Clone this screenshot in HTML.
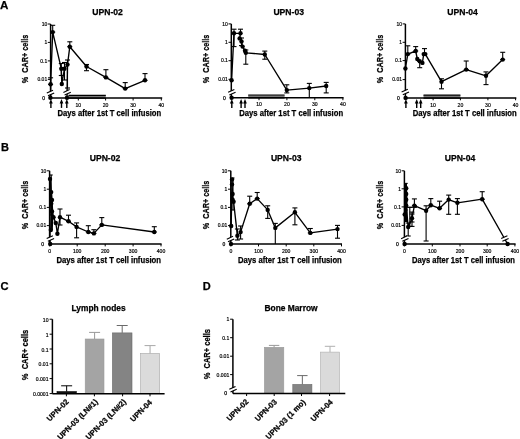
<!DOCTYPE html>
<html><head><meta charset="utf-8"><style>
html,body{margin:0;padding:0;background:#fff;overflow:hidden;}
svg{display:block;filter:grayscale(1) blur(0.3px);}
text{font-family:"Liberation Sans",sans-serif;}
</style></head><body>
<svg width="520" height="439" viewBox="0 0 520 439">
<rect width="520" height="439" fill="#fff"/>
<text x="0.0" y="8.6" font-size="11.6" font-weight="bold" text-anchor="start" fill="#000" stroke="#000" stroke-width="0.25" >A</text>
<text x="1.0" y="151.2" font-size="11.0" font-weight="bold" text-anchor="start" fill="#000" stroke="#000" stroke-width="0.25" >B</text>
<text x="0.5" y="290.0" font-size="11.2" font-weight="bold" text-anchor="start" fill="#000" stroke="#000" stroke-width="0.25" >C</text>
<text x="202.7" y="289.8" font-size="11.0" font-weight="bold" text-anchor="start" fill="#000" stroke="#000" stroke-width="0.25" >D</text>
<text x="107.6" y="15.3" font-size="8.6" font-weight="bold" text-anchor="middle" fill="#000" stroke="#000" stroke-width="0.25" >UPN-02</text>
<text transform="translate(24.7,59.0) rotate(-90)" x="0" y="3.02" font-size="8.4" font-weight="bold" stroke="#000" stroke-width="0.25" text-anchor="middle" textLength="48.6" lengthAdjust="spacingAndGlyphs" xml:space="preserve">%  CAR+ cells</text>
<line x1="50.6" y1="24.0" x2="50.6" y2="98.1" stroke="#000" stroke-width="1.5" />
<line x1="47.800000000000004" y1="24.0" x2="50.6" y2="24.0" stroke="#000" stroke-width="1.0" />
<text x="47.2" y="25.7" font-size="5.0" font-weight="normal" text-anchor="end" fill="#000" stroke="#000" stroke-width="0.18">10</text>
<line x1="47.800000000000004" y1="42.4" x2="50.6" y2="42.4" stroke="#000" stroke-width="1.0" />
<text x="47.2" y="44.1" font-size="5.0" font-weight="normal" text-anchor="end" fill="#000" stroke="#000" stroke-width="0.18">1</text>
<line x1="47.800000000000004" y1="60.9" x2="50.6" y2="60.9" stroke="#000" stroke-width="1.0" />
<text x="47.2" y="62.6" font-size="5.0" font-weight="normal" text-anchor="end" fill="#000" stroke="#000" stroke-width="0.18">0.1</text>
<line x1="47.800000000000004" y1="79.4" x2="50.6" y2="79.4" stroke="#000" stroke-width="1.0" />
<text x="47.2" y="81.10000000000001" font-size="5.0" font-weight="normal" text-anchor="end" fill="#000" stroke="#000" stroke-width="0.18">0.01</text>
<text x="45.0" y="99.89999999999999" font-size="5.0" font-weight="normal" text-anchor="end" fill="#000" stroke="#000" stroke-width="0.25">0</text>
<line x1="50.6" y1="98.1" x2="162.2" y2="98.1" stroke="#000" stroke-width="1.5" />
<line x1="78.3" y1="98.1" x2="78.3" y2="100.5" stroke="#000" stroke-width="1.0" />
<text x="78.3" y="106.69999999999999" font-size="5.1" font-weight="normal" text-anchor="middle" fill="#000" stroke="#000" stroke-width="0.18">10</text>
<line x1="105.6" y1="98.1" x2="105.6" y2="100.5" stroke="#000" stroke-width="1.0" />
<text x="105.6" y="106.69999999999999" font-size="5.1" font-weight="normal" text-anchor="middle" fill="#000" stroke="#000" stroke-width="0.18">20</text>
<line x1="133.1" y1="98.1" x2="133.1" y2="100.5" stroke="#000" stroke-width="1.0" />
<text x="133.1" y="106.69999999999999" font-size="5.1" font-weight="normal" text-anchor="middle" fill="#000" stroke="#000" stroke-width="0.18">30</text>
<line x1="161.3" y1="98.1" x2="161.3" y2="100.5" stroke="#000" stroke-width="1.0" />
<text x="161.3" y="106.69999999999999" font-size="5.1" font-weight="normal" text-anchor="middle" fill="#000" stroke="#000" stroke-width="0.18">40</text>
<text x="109.39999999999999" y="116.1" font-size="8.5" font-weight="bold" text-anchor="middle" fill="#000" stroke="#000" stroke-width="0.25" textLength="103.6" lengthAdjust="spacingAndGlyphs" >Days after 1st T cell infusion</text>
<rect x="68.5" y="95.3" width="37.3" height="2.2" fill="#7a7a7a"/>
<line x1="68.5" y1="95.3" x2="105.8" y2="95.3" stroke="#000" stroke-width="1.2" />
<line x1="68.5" y1="98.1" x2="105.8" y2="98.1" stroke="#000" stroke-width="1.5" />
<path d="M50.9,99.0 L49.05,103.6 L52.75,103.6 Z" fill="#000"/>
<line x1="50.9" y1="102.0" x2="50.9" y2="107.9" stroke="#000" stroke-width="1.4" />
<path d="M61.5,99.0 L59.65,103.6 L63.35,103.6 Z" fill="#000"/>
<line x1="61.5" y1="102.0" x2="61.5" y2="107.9" stroke="#000" stroke-width="1.4" />
<path d="M66.8,99.0 L64.95,103.6 L68.64999999999999,103.6 Z" fill="#000"/>
<line x1="66.8" y1="102.0" x2="66.8" y2="107.9" stroke="#000" stroke-width="1.4" />
<polyline points="50.6,84.3 52.7,32.1 61.3,68.7 61.8,84.0 64.5,68.7 67.5,64.6 69.8,46.7 86.5,66.5 105.9,77.4 125.2,88.6 145.0,80.3" fill="none" stroke="#000" stroke-width="1.35" stroke-linejoin="round"/>
<polyline points="50.6,84.3 50.6,97.8" fill="none" stroke="#000" stroke-width="1.35" stroke-linejoin="round"/>
<polyline points="67.0,97.8 67.5,64.6" fill="none" stroke="#000" stroke-width="1.35" stroke-linejoin="round"/>
<line x1="52.7" y1="25.3" x2="52.7" y2="32.1" stroke="#000" stroke-width="1.1" />
<line x1="50.2" y1="25.3" x2="55.2" y2="25.3" stroke="#000" stroke-width="1.1" />
<line x1="50.2" y1="32.1" x2="55.2" y2="32.1" stroke="#000" stroke-width="1.1" />
<line x1="50.6" y1="77.8" x2="50.6" y2="84.3" stroke="#000" stroke-width="1.1" />
<line x1="48.1" y1="77.8" x2="53.1" y2="77.8" stroke="#000" stroke-width="1.1" />
<line x1="48.1" y1="84.3" x2="53.1" y2="84.3" stroke="#000" stroke-width="1.1" />
<line x1="61.3" y1="63.5" x2="61.3" y2="75.5" stroke="#000" stroke-width="1.1" />
<line x1="58.8" y1="63.5" x2="63.8" y2="63.5" stroke="#000" stroke-width="1.1" />
<line x1="58.8" y1="75.5" x2="63.8" y2="75.5" stroke="#000" stroke-width="1.1" />
<line x1="64.5" y1="62.5" x2="64.5" y2="80.0" stroke="#000" stroke-width="1.1" />
<line x1="62.0" y1="62.5" x2="67.0" y2="62.5" stroke="#000" stroke-width="1.1" />
<line x1="62.0" y1="80.0" x2="67.0" y2="80.0" stroke="#000" stroke-width="1.1" />
<line x1="67.5" y1="60.0" x2="67.5" y2="88.0" stroke="#000" stroke-width="1.1" />
<line x1="65.0" y1="60.0" x2="70.0" y2="60.0" stroke="#000" stroke-width="1.1" />
<line x1="65.0" y1="88.0" x2="70.0" y2="88.0" stroke="#000" stroke-width="1.1" />
<line x1="69.8" y1="41.8" x2="69.8" y2="46.7" stroke="#000" stroke-width="1.1" />
<line x1="67.3" y1="41.8" x2="72.3" y2="41.8" stroke="#000" stroke-width="1.1" />
<line x1="67.3" y1="46.7" x2="72.3" y2="46.7" stroke="#000" stroke-width="1.1" />
<line x1="86.5" y1="64.5" x2="86.5" y2="70.7" stroke="#000" stroke-width="1.1" />
<line x1="84.0" y1="64.5" x2="89.0" y2="64.5" stroke="#000" stroke-width="1.1" />
<line x1="84.0" y1="70.7" x2="89.0" y2="70.7" stroke="#000" stroke-width="1.1" />
<line x1="105.9" y1="69.7" x2="105.9" y2="77.4" stroke="#000" stroke-width="1.1" />
<line x1="103.4" y1="69.7" x2="108.4" y2="69.7" stroke="#000" stroke-width="1.1" />
<line x1="103.4" y1="77.4" x2="108.4" y2="77.4" stroke="#000" stroke-width="1.1" />
<line x1="125.2" y1="82.6" x2="125.2" y2="88.6" stroke="#000" stroke-width="1.1" />
<line x1="122.7" y1="82.6" x2="127.7" y2="82.6" stroke="#000" stroke-width="1.1" />
<line x1="122.7" y1="88.6" x2="127.7" y2="88.6" stroke="#000" stroke-width="1.1" />
<line x1="145.0" y1="73.6" x2="145.0" y2="80.3" stroke="#000" stroke-width="1.1" />
<line x1="142.5" y1="73.6" x2="147.5" y2="73.6" stroke="#000" stroke-width="1.1" />
<line x1="142.5" y1="80.3" x2="147.5" y2="80.3" stroke="#000" stroke-width="1.1" />
<polygon points="46.8,93.05000000000001 53.0,90.25 54.2,92.94999999999999 48.0,95.75" fill="#fff"/>
<line x1="46.8" y1="93.05000000000001" x2="53.0" y2="90.25" stroke="#000" stroke-width="1.15" />
<line x1="48.0" y1="95.75" x2="54.2" y2="92.94999999999999" stroke="#000" stroke-width="1.15" />
<polygon points="63.4,92.4 69.6,89.6 70.79999999999998,92.29999999999998 64.6,95.1" fill="#fff"/>
<line x1="63.4" y1="92.4" x2="69.6" y2="89.6" stroke="#000" stroke-width="1.15" />
<line x1="64.6" y1="95.1" x2="70.79999999999998" y2="92.29999999999998" stroke="#000" stroke-width="1.15" />
<circle cx="50.6" cy="84.3" r="2.2" fill="#000"/>
<circle cx="52.7" cy="32.1" r="2.2" fill="#000"/>
<circle cx="61.3" cy="68.7" r="2.2" fill="#000"/>
<circle cx="61.8" cy="84.0" r="2.2" fill="#000"/>
<circle cx="64.5" cy="68.7" r="2.2" fill="#000"/>
<circle cx="67.5" cy="64.6" r="2.2" fill="#000"/>
<circle cx="69.8" cy="46.7" r="2.2" fill="#000"/>
<circle cx="86.5" cy="66.5" r="2.2" fill="#000"/>
<circle cx="105.9" cy="77.4" r="2.2" fill="#000"/>
<circle cx="125.2" cy="88.6" r="2.2" fill="#000"/>
<circle cx="145.0" cy="80.3" r="2.2" fill="#000"/>
<circle cx="50.4" cy="97.8" r="2.2" fill="#000"/>
<circle cx="67.0" cy="97.8" r="2.2" fill="#000"/>
<text x="288.7" y="15.2" font-size="8.6" font-weight="bold" text-anchor="middle" fill="#000" stroke="#000" stroke-width="0.25" >UPN-03</text>
<text transform="translate(205.9,59.0) rotate(-90)" x="0" y="3.02" font-size="8.4" font-weight="bold" stroke="#000" stroke-width="0.25" text-anchor="middle" textLength="48.6" lengthAdjust="spacingAndGlyphs" xml:space="preserve">%  CAR+ cells</text>
<line x1="231.3" y1="23.9" x2="231.3" y2="97.8" stroke="#000" stroke-width="1.5" />
<line x1="228.5" y1="23.9" x2="231.3" y2="23.9" stroke="#000" stroke-width="1.0" />
<text x="227.9" y="25.599999999999998" font-size="5.0" font-weight="normal" text-anchor="end" fill="#000" stroke="#000" stroke-width="0.18">10</text>
<line x1="228.5" y1="42.3" x2="231.3" y2="42.3" stroke="#000" stroke-width="1.0" />
<text x="227.9" y="44.0" font-size="5.0" font-weight="normal" text-anchor="end" fill="#000" stroke="#000" stroke-width="0.18">1</text>
<line x1="228.5" y1="60.7" x2="231.3" y2="60.7" stroke="#000" stroke-width="1.0" />
<text x="227.9" y="62.400000000000006" font-size="5.0" font-weight="normal" text-anchor="end" fill="#000" stroke="#000" stroke-width="0.18">0.1</text>
<line x1="228.5" y1="79.3" x2="231.3" y2="79.3" stroke="#000" stroke-width="1.0" />
<text x="227.9" y="81.0" font-size="5.0" font-weight="normal" text-anchor="end" fill="#000" stroke="#000" stroke-width="0.18">0.01</text>
<text x="225.70000000000002" y="99.6" font-size="5.0" font-weight="normal" text-anchor="end" fill="#000" stroke="#000" stroke-width="0.25">0</text>
<line x1="231.3" y1="97.8" x2="343.6" y2="97.8" stroke="#000" stroke-width="1.5" />
<line x1="259.0" y1="97.8" x2="259.0" y2="100.2" stroke="#000" stroke-width="1.0" />
<text x="259.0" y="106.39999999999999" font-size="5.1" font-weight="normal" text-anchor="middle" fill="#000" stroke="#000" stroke-width="0.18">10</text>
<line x1="286.9" y1="97.8" x2="286.9" y2="100.2" stroke="#000" stroke-width="1.0" />
<text x="286.9" y="106.39999999999999" font-size="5.1" font-weight="normal" text-anchor="middle" fill="#000" stroke="#000" stroke-width="0.18">20</text>
<line x1="314.8" y1="97.8" x2="314.8" y2="100.2" stroke="#000" stroke-width="1.0" />
<text x="314.8" y="106.39999999999999" font-size="5.1" font-weight="normal" text-anchor="middle" fill="#000" stroke="#000" stroke-width="0.18">30</text>
<line x1="342.9" y1="97.8" x2="342.9" y2="100.2" stroke="#000" stroke-width="1.0" />
<text x="342.9" y="106.39999999999999" font-size="5.1" font-weight="normal" text-anchor="middle" fill="#000" stroke="#000" stroke-width="0.18">40</text>
<text x="291.15" y="116.1" font-size="8.5" font-weight="bold" text-anchor="middle" fill="#000" stroke="#000" stroke-width="0.25" textLength="103.9" lengthAdjust="spacingAndGlyphs" >Days after 1st T cell infusion</text>
<rect x="248.2" y="95.0" width="36.4" height="2.2" fill="#7a7a7a"/>
<line x1="248.2" y1="95.0" x2="284.6" y2="95.0" stroke="#000" stroke-width="1.2" />
<line x1="248.2" y1="97.8" x2="284.6" y2="97.8" stroke="#000" stroke-width="1.5" />
<path d="M231.8,99.0 L229.95000000000002,103.6 L233.65,103.6 Z" fill="#000"/>
<line x1="231.8" y1="102.0" x2="231.8" y2="107.9" stroke="#000" stroke-width="1.4" />
<path d="M241.1,99.0 L239.25,103.6 L242.95,103.6 Z" fill="#000"/>
<line x1="241.1" y1="102.0" x2="241.1" y2="107.9" stroke="#000" stroke-width="1.4" />
<path d="M245.0,99.0 L243.15,103.6 L246.85,103.6 Z" fill="#000"/>
<line x1="245.0" y1="102.0" x2="245.0" y2="107.9" stroke="#000" stroke-width="1.4" />
<polyline points="231.6,80.2 234.0,33.3 240.5,33.3 239.6,38.4 241.5,41.5 242.6,46.6 245.0,50.7 245.8,52.8 264.8,54.5 286.8,90.1 309.3,88.1 326.2,86.0" fill="none" stroke="#000" stroke-width="1.35" stroke-linejoin="round"/>
<line x1="234.0" y1="29.2" x2="234.0" y2="46.6" stroke="#000" stroke-width="1.1" />
<line x1="231.5" y1="29.2" x2="236.5" y2="29.2" stroke="#000" stroke-width="1.1" />
<line x1="231.5" y1="46.6" x2="236.5" y2="46.6" stroke="#000" stroke-width="1.1" />
<line x1="240.5" y1="29.2" x2="240.5" y2="33.3" stroke="#000" stroke-width="1.1" />
<line x1="238.0" y1="29.2" x2="243.0" y2="29.2" stroke="#000" stroke-width="1.1" />
<line x1="241.5" y1="38.0" x2="241.5" y2="45.6" stroke="#000" stroke-width="1.1" />
<line x1="239.0" y1="38.0" x2="244.0" y2="38.0" stroke="#000" stroke-width="1.1" />
<line x1="239.0" y1="45.6" x2="244.0" y2="45.6" stroke="#000" stroke-width="1.1" />
<line x1="245.8" y1="50.0" x2="245.8" y2="64.2" stroke="#000" stroke-width="1.1" />
<line x1="243.3" y1="50.0" x2="248.3" y2="50.0" stroke="#000" stroke-width="1.1" />
<line x1="243.3" y1="64.2" x2="248.3" y2="64.2" stroke="#000" stroke-width="1.1" />
<line x1="264.8" y1="51.1" x2="264.8" y2="59.2" stroke="#000" stroke-width="1.1" />
<line x1="262.3" y1="51.1" x2="267.3" y2="51.1" stroke="#000" stroke-width="1.1" />
<line x1="262.3" y1="59.2" x2="267.3" y2="59.2" stroke="#000" stroke-width="1.1" />
<line x1="286.8" y1="84.8" x2="286.8" y2="92.9" stroke="#000" stroke-width="1.1" />
<line x1="284.3" y1="84.8" x2="289.3" y2="84.8" stroke="#000" stroke-width="1.1" />
<line x1="284.3" y1="92.9" x2="289.3" y2="92.9" stroke="#000" stroke-width="1.1" />
<line x1="309.3" y1="83.4" x2="309.3" y2="97.8" stroke="#000" stroke-width="1.1" />
<line x1="306.8" y1="83.4" x2="311.8" y2="83.4" stroke="#000" stroke-width="1.1" />
<line x1="326.2" y1="82.4" x2="326.2" y2="92.9" stroke="#000" stroke-width="1.1" />
<line x1="323.7" y1="82.4" x2="328.7" y2="82.4" stroke="#000" stroke-width="1.1" />
<line x1="323.7" y1="92.9" x2="328.7" y2="92.9" stroke="#000" stroke-width="1.1" />
<polygon points="228.15,92.30000000000001 234.35,89.5 235.54999999999998,92.19999999999999 229.35,95.0" fill="#fff"/>
<line x1="228.15" y1="92.30000000000001" x2="234.35" y2="89.5" stroke="#000" stroke-width="1.15" />
<line x1="229.35" y1="95.0" x2="235.54999999999998" y2="92.19999999999999" stroke="#000" stroke-width="1.15" />
<circle cx="231.6" cy="80.2" r="2.2" fill="#000"/>
<circle cx="234.0" cy="33.3" r="2.2" fill="#000"/>
<circle cx="240.5" cy="33.3" r="2.2" fill="#000"/>
<circle cx="239.6" cy="38.4" r="2.2" fill="#000"/>
<circle cx="241.5" cy="41.5" r="2.2" fill="#000"/>
<circle cx="242.6" cy="46.6" r="2.2" fill="#000"/>
<circle cx="245.0" cy="50.7" r="2.2" fill="#000"/>
<circle cx="245.8" cy="52.8" r="2.2" fill="#000"/>
<circle cx="264.8" cy="54.5" r="2.2" fill="#000"/>
<circle cx="286.8" cy="90.1" r="2.2" fill="#000"/>
<circle cx="309.3" cy="88.1" r="2.2" fill="#000"/>
<circle cx="326.2" cy="86.0" r="2.2" fill="#000"/>
<circle cx="231.6" cy="97.8" r="2.2" fill="#000"/>
<text x="462.6" y="15.2" font-size="8.6" font-weight="bold" text-anchor="middle" fill="#000" stroke="#000" stroke-width="0.25" >UPN-04</text>
<text transform="translate(379.9,59.0) rotate(-90)" x="0" y="3.02" font-size="8.4" font-weight="bold" stroke="#000" stroke-width="0.25" text-anchor="middle" textLength="48.6" lengthAdjust="spacingAndGlyphs" xml:space="preserve">%  CAR+ cells</text>
<line x1="405.4" y1="23.9" x2="405.4" y2="97.9" stroke="#000" stroke-width="1.5" />
<line x1="402.59999999999997" y1="23.9" x2="405.4" y2="23.9" stroke="#000" stroke-width="1.0" />
<text x="402.0" y="25.599999999999998" font-size="5.0" font-weight="normal" text-anchor="end" fill="#000" stroke="#000" stroke-width="0.18">10</text>
<line x1="402.59999999999997" y1="42.3" x2="405.4" y2="42.3" stroke="#000" stroke-width="1.0" />
<text x="402.0" y="44.0" font-size="5.0" font-weight="normal" text-anchor="end" fill="#000" stroke="#000" stroke-width="0.18">1</text>
<line x1="402.59999999999997" y1="60.6" x2="405.4" y2="60.6" stroke="#000" stroke-width="1.0" />
<text x="402.0" y="62.300000000000004" font-size="5.0" font-weight="normal" text-anchor="end" fill="#000" stroke="#000" stroke-width="0.18">0.1</text>
<line x1="402.59999999999997" y1="79.6" x2="405.4" y2="79.6" stroke="#000" stroke-width="1.0" />
<text x="402.0" y="81.3" font-size="5.0" font-weight="normal" text-anchor="end" fill="#000" stroke="#000" stroke-width="0.18">0.01</text>
<text x="399.79999999999995" y="99.7" font-size="5.0" font-weight="normal" text-anchor="end" fill="#000" stroke="#000" stroke-width="0.25">0</text>
<line x1="405.4" y1="97.9" x2="516.3" y2="97.9" stroke="#000" stroke-width="1.5" />
<line x1="433.1" y1="97.9" x2="433.1" y2="100.30000000000001" stroke="#000" stroke-width="1.0" />
<text x="433.1" y="106.5" font-size="5.1" font-weight="normal" text-anchor="middle" fill="#000" stroke="#000" stroke-width="0.18">10</text>
<line x1="460.4" y1="97.9" x2="460.4" y2="100.30000000000001" stroke="#000" stroke-width="1.0" />
<text x="460.4" y="106.5" font-size="5.1" font-weight="normal" text-anchor="middle" fill="#000" stroke="#000" stroke-width="0.18">20</text>
<line x1="487.9" y1="97.9" x2="487.9" y2="100.30000000000001" stroke="#000" stroke-width="1.0" />
<text x="487.9" y="106.5" font-size="5.1" font-weight="normal" text-anchor="middle" fill="#000" stroke="#000" stroke-width="0.18">30</text>
<line x1="515.6" y1="97.9" x2="515.6" y2="100.30000000000001" stroke="#000" stroke-width="1.0" />
<text x="515.6" y="106.5" font-size="5.1" font-weight="normal" text-anchor="middle" fill="#000" stroke="#000" stroke-width="0.18">40</text>
<text x="464.70000000000005" y="116.1" font-size="8.5" font-weight="bold" text-anchor="middle" fill="#000" stroke="#000" stroke-width="0.25" textLength="104.0" lengthAdjust="spacingAndGlyphs" >Days after 1st T cell infusion</text>
<rect x="423.5" y="95.10000000000001" width="36.9" height="2.2" fill="#7a7a7a"/>
<line x1="423.5" y1="95.10000000000001" x2="460.4" y2="95.10000000000001" stroke="#000" stroke-width="1.2" />
<line x1="423.5" y1="97.9" x2="460.4" y2="97.9" stroke="#000" stroke-width="1.5" />
<path d="M405.9,99.0 L404.04999999999995,103.6 L407.75,103.6 Z" fill="#000"/>
<line x1="405.9" y1="102.0" x2="405.9" y2="107.9" stroke="#000" stroke-width="1.4" />
<path d="M416.7,99.0 L414.84999999999997,103.6 L418.55,103.6 Z" fill="#000"/>
<line x1="416.7" y1="102.0" x2="416.7" y2="107.9" stroke="#000" stroke-width="1.4" />
<path d="M420.7,99.0 L418.84999999999997,103.6 L422.55,103.6 Z" fill="#000"/>
<line x1="420.7" y1="102.0" x2="420.7" y2="107.9" stroke="#000" stroke-width="1.4" />
<polyline points="405.4,68.5 407.8,54.1 415.7,51.0 417.3,59.0 419.7,61.3 422.4,62.9 423.7,54.1 425.3,54.1 441.5,81.7 466.2,69.6 486.0,75.8 502.7,59.6" fill="none" stroke="#000" stroke-width="1.35" stroke-linejoin="round"/>
<line x1="407.8" y1="45.8" x2="407.8" y2="54.1" stroke="#000" stroke-width="1.1" />
<line x1="405.3" y1="45.8" x2="410.3" y2="45.8" stroke="#000" stroke-width="1.1" />
<line x1="405.3" y1="54.1" x2="410.3" y2="54.1" stroke="#000" stroke-width="1.1" />
<line x1="415.7" y1="46.6" x2="415.7" y2="51.0" stroke="#000" stroke-width="1.1" />
<line x1="413.2" y1="46.6" x2="418.2" y2="46.6" stroke="#000" stroke-width="1.1" />
<line x1="413.2" y1="51.0" x2="418.2" y2="51.0" stroke="#000" stroke-width="1.1" />
<line x1="419.7" y1="61.3" x2="419.7" y2="67.7" stroke="#000" stroke-width="1.1" />
<line x1="417.2" y1="61.3" x2="422.2" y2="61.3" stroke="#000" stroke-width="1.1" />
<line x1="417.2" y1="67.7" x2="422.2" y2="67.7" stroke="#000" stroke-width="1.1" />
<line x1="424.5" y1="48.6" x2="424.5" y2="54.1" stroke="#000" stroke-width="1.1" />
<line x1="422.0" y1="48.6" x2="427.0" y2="48.6" stroke="#000" stroke-width="1.1" />
<line x1="422.0" y1="54.1" x2="427.0" y2="54.1" stroke="#000" stroke-width="1.1" />
<line x1="441.5" y1="78.8" x2="441.5" y2="88.8" stroke="#000" stroke-width="1.1" />
<line x1="439.0" y1="78.8" x2="444.0" y2="78.8" stroke="#000" stroke-width="1.1" />
<line x1="439.0" y1="88.8" x2="444.0" y2="88.8" stroke="#000" stroke-width="1.1" />
<line x1="466.2" y1="61.0" x2="466.2" y2="69.6" stroke="#000" stroke-width="1.1" />
<line x1="463.7" y1="61.0" x2="468.7" y2="61.0" stroke="#000" stroke-width="1.1" />
<line x1="463.7" y1="69.6" x2="468.7" y2="69.6" stroke="#000" stroke-width="1.1" />
<line x1="486.0" y1="71.9" x2="486.0" y2="84.6" stroke="#000" stroke-width="1.1" />
<line x1="483.5" y1="71.9" x2="488.5" y2="71.9" stroke="#000" stroke-width="1.1" />
<line x1="483.5" y1="84.6" x2="488.5" y2="84.6" stroke="#000" stroke-width="1.1" />
<line x1="502.7" y1="52.3" x2="502.7" y2="59.6" stroke="#000" stroke-width="1.1" />
<line x1="500.2" y1="52.3" x2="505.2" y2="52.3" stroke="#000" stroke-width="1.1" />
<line x1="500.2" y1="59.6" x2="505.2" y2="59.6" stroke="#000" stroke-width="1.1" />
<polygon points="401.59999999999997,92.05000000000001 407.8,89.25 409.00000000000006,91.94999999999999 402.8,94.75" fill="#fff"/>
<line x1="401.59999999999997" y1="92.05000000000001" x2="407.8" y2="89.25" stroke="#000" stroke-width="1.15" />
<line x1="402.8" y1="94.75" x2="409.00000000000006" y2="91.94999999999999" stroke="#000" stroke-width="1.15" />
<circle cx="405.4" cy="68.5" r="2.2" fill="#000"/>
<circle cx="407.8" cy="54.1" r="2.2" fill="#000"/>
<circle cx="415.7" cy="51.0" r="2.2" fill="#000"/>
<circle cx="417.3" cy="59.0" r="2.2" fill="#000"/>
<circle cx="419.7" cy="61.3" r="2.2" fill="#000"/>
<circle cx="422.4" cy="62.9" r="2.2" fill="#000"/>
<circle cx="423.7" cy="54.1" r="2.2" fill="#000"/>
<circle cx="425.3" cy="54.1" r="2.2" fill="#000"/>
<circle cx="441.5" cy="81.7" r="2.2" fill="#000"/>
<circle cx="466.2" cy="69.6" r="2.2" fill="#000"/>
<circle cx="486.0" cy="75.8" r="2.2" fill="#000"/>
<circle cx="502.7" cy="59.6" r="2.2" fill="#000"/>
<circle cx="405.6" cy="97.9" r="2.2" fill="#000"/>
<text x="105.0" y="161.0" font-size="8.6" font-weight="bold" text-anchor="middle" fill="#000" stroke="#000" stroke-width="0.25" >UPN-02</text>
<text transform="translate(24.6,205.0) rotate(-90)" x="0" y="3.02" font-size="8.4" font-weight="bold" stroke="#000" stroke-width="0.25" text-anchor="middle" textLength="48.6" lengthAdjust="spacingAndGlyphs" xml:space="preserve">%  CAR+ cells</text>
<line x1="49.6" y1="170.8" x2="49.6" y2="244.0" stroke="#000" stroke-width="1.5" />
<line x1="46.800000000000004" y1="170.8" x2="49.6" y2="170.8" stroke="#000" stroke-width="1.0" />
<text x="46.2" y="172.5" font-size="5.0" font-weight="normal" text-anchor="end" fill="#000" stroke="#000" stroke-width="0.18">10</text>
<line x1="46.800000000000004" y1="189.2" x2="49.6" y2="189.2" stroke="#000" stroke-width="1.0" />
<text x="46.2" y="190.89999999999998" font-size="5.0" font-weight="normal" text-anchor="end" fill="#000" stroke="#000" stroke-width="0.18">1</text>
<line x1="46.800000000000004" y1="207.4" x2="49.6" y2="207.4" stroke="#000" stroke-width="1.0" />
<text x="46.2" y="209.1" font-size="5.0" font-weight="normal" text-anchor="end" fill="#000" stroke="#000" stroke-width="0.18">0.1</text>
<line x1="46.800000000000004" y1="225.6" x2="49.6" y2="225.6" stroke="#000" stroke-width="1.0" />
<text x="46.2" y="227.29999999999998" font-size="5.0" font-weight="normal" text-anchor="end" fill="#000" stroke="#000" stroke-width="0.18">0.01</text>
<text x="44.0" y="245.8" font-size="5.0" font-weight="normal" text-anchor="end" fill="#000" stroke="#000" stroke-width="0.25">0</text>
<line x1="49.6" y1="244.0" x2="161.6" y2="244.0" stroke="#000" stroke-width="1.5" />
<line x1="49.6" y1="244.0" x2="49.6" y2="246.4" stroke="#000" stroke-width="1.0" />
<text x="49.6" y="252.6" font-size="5.1" font-weight="normal" text-anchor="middle" fill="#000" stroke="#000" stroke-width="0.18">0</text>
<line x1="77.2" y1="244.0" x2="77.2" y2="246.4" stroke="#000" stroke-width="1.0" />
<text x="77.2" y="252.6" font-size="5.1" font-weight="normal" text-anchor="middle" fill="#000" stroke="#000" stroke-width="0.18">100</text>
<line x1="105.2" y1="244.0" x2="105.2" y2="246.4" stroke="#000" stroke-width="1.0" />
<text x="105.2" y="252.6" font-size="5.1" font-weight="normal" text-anchor="middle" fill="#000" stroke="#000" stroke-width="0.18">200</text>
<line x1="133.1" y1="244.0" x2="133.1" y2="246.4" stroke="#000" stroke-width="1.0" />
<text x="133.1" y="252.6" font-size="5.1" font-weight="normal" text-anchor="middle" fill="#000" stroke="#000" stroke-width="0.18">300</text>
<line x1="161.0" y1="244.0" x2="161.0" y2="246.4" stroke="#000" stroke-width="1.0" />
<text x="161.0" y="252.6" font-size="5.1" font-weight="normal" text-anchor="middle" fill="#000" stroke="#000" stroke-width="0.18">400</text>
<text x="108.7" y="262.5" font-size="8.5" font-weight="bold" text-anchor="middle" fill="#000" stroke="#000" stroke-width="0.25" textLength="104.6" lengthAdjust="spacingAndGlyphs" >Days after 1st T cell infusion</text>
<polyline points="50.0,178.9 51.2,192.1 51.2,203.7 52.0,211.5 53.5,217.3 55.8,223.0 57.4,233.7 60.0,217.2 68.5,221.3 76.6,226.9 88.3,232.0 93.9,233.4 101.8,224.9 154.3,232.0" fill="none" stroke="#000" stroke-width="1.35" stroke-linejoin="round"/>
<polyline points="50,178.9 50,244" fill="none" stroke="#000" stroke-width="1.35" stroke-linejoin="round"/>
<line x1="51.2" y1="175" x2="51.2" y2="215" stroke="#000" stroke-width="1.1" />
<line x1="49.7" y1="175" x2="52.7" y2="175" stroke="#000" stroke-width="1.1" />
<line x1="49.7" y1="215" x2="52.7" y2="215" stroke="#000" stroke-width="1.1" />
<line x1="60.0" y1="209.0" x2="60.0" y2="225.0" stroke="#000" stroke-width="1.1" />
<line x1="57.5" y1="209.0" x2="62.5" y2="209.0" stroke="#000" stroke-width="1.1" />
<line x1="57.5" y1="225.0" x2="62.5" y2="225.0" stroke="#000" stroke-width="1.1" />
<line x1="68.5" y1="215.2" x2="68.5" y2="221.3" stroke="#000" stroke-width="1.1" />
<line x1="66.0" y1="215.2" x2="71.0" y2="215.2" stroke="#000" stroke-width="1.1" />
<line x1="66.0" y1="221.3" x2="71.0" y2="221.3" stroke="#000" stroke-width="1.1" />
<line x1="76.6" y1="222.9" x2="76.6" y2="237.8" stroke="#000" stroke-width="1.1" />
<line x1="74.1" y1="222.9" x2="79.1" y2="222.9" stroke="#000" stroke-width="1.1" />
<line x1="74.1" y1="237.8" x2="79.1" y2="237.8" stroke="#000" stroke-width="1.1" />
<line x1="88.3" y1="225.7" x2="88.3" y2="232.0" stroke="#000" stroke-width="1.1" />
<line x1="85.8" y1="225.7" x2="90.8" y2="225.7" stroke="#000" stroke-width="1.1" />
<line x1="85.8" y1="232.0" x2="90.8" y2="232.0" stroke="#000" stroke-width="1.1" />
<line x1="93.9" y1="229.7" x2="93.9" y2="233.4" stroke="#000" stroke-width="1.1" />
<line x1="91.4" y1="229.7" x2="96.4" y2="229.7" stroke="#000" stroke-width="1.1" />
<line x1="91.4" y1="233.4" x2="96.4" y2="233.4" stroke="#000" stroke-width="1.1" />
<line x1="101.8" y1="217.6" x2="101.8" y2="224.9" stroke="#000" stroke-width="1.1" />
<line x1="99.3" y1="217.6" x2="104.3" y2="217.6" stroke="#000" stroke-width="1.1" />
<line x1="99.3" y1="224.9" x2="104.3" y2="224.9" stroke="#000" stroke-width="1.1" />
<line x1="154.3" y1="226.7" x2="154.3" y2="232.0" stroke="#000" stroke-width="1.1" />
<line x1="151.8" y1="226.7" x2="156.8" y2="226.7" stroke="#000" stroke-width="1.1" />
<line x1="151.8" y1="232.0" x2="156.8" y2="232.0" stroke="#000" stroke-width="1.1" />
<polyline points="50.8,190 51.6,205 52.2,215 51.5,230" fill="none" stroke="#000" stroke-width="2.6" stroke-linejoin="round"/>
<polygon points="46.699999999999996,238.55 52.9,235.75 54.1,238.45 47.9,241.25" fill="#fff"/>
<line x1="46.699999999999996" y1="238.55" x2="52.9" y2="235.75" stroke="#000" stroke-width="1.15" />
<line x1="47.9" y1="241.25" x2="54.1" y2="238.45" stroke="#000" stroke-width="1.15" />
<circle cx="50.0" cy="178.9" r="2.2" fill="#000"/>
<circle cx="51.2" cy="192.1" r="2.2" fill="#000"/>
<circle cx="51.2" cy="203.7" r="2.2" fill="#000"/>
<circle cx="52.0" cy="211.5" r="2.2" fill="#000"/>
<circle cx="53.5" cy="217.3" r="2.2" fill="#000"/>
<circle cx="55.8" cy="223.0" r="2.2" fill="#000"/>
<circle cx="57.4" cy="233.7" r="2.2" fill="#000"/>
<circle cx="60.0" cy="217.2" r="2.2" fill="#000"/>
<circle cx="68.5" cy="221.3" r="2.2" fill="#000"/>
<circle cx="76.6" cy="226.9" r="2.2" fill="#000"/>
<circle cx="88.3" cy="232.0" r="2.2" fill="#000"/>
<circle cx="93.9" cy="233.4" r="2.2" fill="#000"/>
<circle cx="101.8" cy="224.9" r="2.2" fill="#000"/>
<circle cx="154.3" cy="232.0" r="2.2" fill="#000"/>
<circle cx="50.2" cy="244" r="2.2" fill="#000"/>
<circle cx="50.8" cy="230" r="2.2" fill="#000"/>
<circle cx="52" cy="200" r="2.2" fill="#000"/>
<text x="286.2" y="161.0" font-size="8.6" font-weight="bold" text-anchor="middle" fill="#000" stroke="#000" stroke-width="0.25" >UPN-03</text>
<text transform="translate(205.8,205.0) rotate(-90)" x="0" y="3.02" font-size="8.4" font-weight="bold" stroke="#000" stroke-width="0.25" text-anchor="middle" textLength="48.6" lengthAdjust="spacingAndGlyphs" xml:space="preserve">%  CAR+ cells</text>
<line x1="230.8" y1="170.8" x2="230.8" y2="244.0" stroke="#000" stroke-width="1.5" />
<line x1="228.0" y1="170.8" x2="230.8" y2="170.8" stroke="#000" stroke-width="1.0" />
<text x="227.4" y="172.5" font-size="5.0" font-weight="normal" text-anchor="end" fill="#000" stroke="#000" stroke-width="0.18">10</text>
<line x1="228.0" y1="189.2" x2="230.8" y2="189.2" stroke="#000" stroke-width="1.0" />
<text x="227.4" y="190.89999999999998" font-size="5.0" font-weight="normal" text-anchor="end" fill="#000" stroke="#000" stroke-width="0.18">1</text>
<line x1="228.0" y1="207.4" x2="230.8" y2="207.4" stroke="#000" stroke-width="1.0" />
<text x="227.4" y="209.1" font-size="5.0" font-weight="normal" text-anchor="end" fill="#000" stroke="#000" stroke-width="0.18">0.1</text>
<line x1="228.0" y1="225.6" x2="230.8" y2="225.6" stroke="#000" stroke-width="1.0" />
<text x="227.4" y="227.29999999999998" font-size="5.0" font-weight="normal" text-anchor="end" fill="#000" stroke="#000" stroke-width="0.18">0.01</text>
<text x="225.20000000000002" y="245.8" font-size="5.0" font-weight="normal" text-anchor="end" fill="#000" stroke="#000" stroke-width="0.25">0</text>
<line x1="230.8" y1="244.0" x2="342.0" y2="244.0" stroke="#000" stroke-width="1.5" />
<line x1="230.8" y1="244.0" x2="230.8" y2="246.4" stroke="#000" stroke-width="1.0" />
<text x="230.8" y="252.6" font-size="5.1" font-weight="normal" text-anchor="middle" fill="#000" stroke="#000" stroke-width="0.18">0</text>
<line x1="258.5" y1="244.0" x2="258.5" y2="246.4" stroke="#000" stroke-width="1.0" />
<text x="258.5" y="252.6" font-size="5.1" font-weight="normal" text-anchor="middle" fill="#000" stroke="#000" stroke-width="0.18">100</text>
<line x1="286.2" y1="244.0" x2="286.2" y2="246.4" stroke="#000" stroke-width="1.0" />
<text x="286.2" y="252.6" font-size="5.1" font-weight="normal" text-anchor="middle" fill="#000" stroke="#000" stroke-width="0.18">200</text>
<line x1="313.8" y1="244.0" x2="313.8" y2="246.4" stroke="#000" stroke-width="1.0" />
<text x="313.8" y="252.6" font-size="5.1" font-weight="normal" text-anchor="middle" fill="#000" stroke="#000" stroke-width="0.18">300</text>
<line x1="341.5" y1="244.0" x2="341.5" y2="246.4" stroke="#000" stroke-width="1.0" />
<text x="341.5" y="252.6" font-size="5.1" font-weight="normal" text-anchor="middle" fill="#000" stroke="#000" stroke-width="0.18">400</text>
<text x="289.9" y="262.5" font-size="8.5" font-weight="bold" text-anchor="middle" fill="#000" stroke="#000" stroke-width="0.25" textLength="103.8" lengthAdjust="spacingAndGlyphs" >Days after 1st T cell infusion</text>
<polyline points="231.2,226.0 232.0,179.5 232.0,184.4 232.6,194.0 232.6,199.8 233.6,201.8 237.4,235.7 240.6,232.1 249.7,203.8 257.2,198.6 267.7,209.9 275.3,227.9 294.9,212.3 310.3,232.9 337.5,229.1" fill="none" stroke="#000" stroke-width="1.35" stroke-linejoin="round"/>
<line x1="237.4" y1="229" x2="237.4" y2="240" stroke="#000" stroke-width="1.1" />
<line x1="234.9" y1="229" x2="239.9" y2="229" stroke="#000" stroke-width="1.1" />
<line x1="234.9" y1="240" x2="239.9" y2="240" stroke="#000" stroke-width="1.1" />
<line x1="240.6" y1="226" x2="240.6" y2="239.0" stroke="#000" stroke-width="1.1" />
<line x1="238.1" y1="226" x2="243.1" y2="226" stroke="#000" stroke-width="1.1" />
<line x1="238.1" y1="239.0" x2="243.1" y2="239.0" stroke="#000" stroke-width="1.1" />
<line x1="249.7" y1="196.2" x2="249.7" y2="203.8" stroke="#000" stroke-width="1.1" />
<line x1="247.2" y1="196.2" x2="252.2" y2="196.2" stroke="#000" stroke-width="1.1" />
<line x1="247.2" y1="203.8" x2="252.2" y2="203.8" stroke="#000" stroke-width="1.1" />
<line x1="257.2" y1="192.5" x2="257.2" y2="198.6" stroke="#000" stroke-width="1.1" />
<line x1="254.7" y1="192.5" x2="259.7" y2="192.5" stroke="#000" stroke-width="1.1" />
<line x1="254.7" y1="198.6" x2="259.7" y2="198.6" stroke="#000" stroke-width="1.1" />
<line x1="267.7" y1="205.8" x2="267.7" y2="218.4" stroke="#000" stroke-width="1.1" />
<line x1="265.2" y1="205.8" x2="270.2" y2="205.8" stroke="#000" stroke-width="1.1" />
<line x1="265.2" y1="218.4" x2="270.2" y2="218.4" stroke="#000" stroke-width="1.1" />
<line x1="275.3" y1="223.4" x2="275.3" y2="244.0" stroke="#000" stroke-width="1.1" />
<line x1="272.8" y1="223.4" x2="277.8" y2="223.4" stroke="#000" stroke-width="1.1" />
<line x1="294.9" y1="207.9" x2="294.9" y2="224.8" stroke="#000" stroke-width="1.1" />
<line x1="292.4" y1="207.9" x2="297.4" y2="207.9" stroke="#000" stroke-width="1.1" />
<line x1="292.4" y1="224.8" x2="297.4" y2="224.8" stroke="#000" stroke-width="1.1" />
<line x1="310.3" y1="228.5" x2="310.3" y2="232.9" stroke="#000" stroke-width="1.1" />
<line x1="307.8" y1="228.5" x2="312.8" y2="228.5" stroke="#000" stroke-width="1.1" />
<line x1="307.8" y1="232.9" x2="312.8" y2="232.9" stroke="#000" stroke-width="1.1" />
<line x1="337.5" y1="225.4" x2="337.5" y2="238.2" stroke="#000" stroke-width="1.1" />
<line x1="335.0" y1="225.4" x2="340.0" y2="225.4" stroke="#000" stroke-width="1.1" />
<line x1="335.0" y1="238.2" x2="340.0" y2="238.2" stroke="#000" stroke-width="1.1" />
<line x1="233.0" y1="178" x2="233.0" y2="210" stroke="#000" stroke-width="1.1" />
<line x1="231.5" y1="178" x2="234.5" y2="178" stroke="#000" stroke-width="1.1" />
<line x1="231.5" y1="210" x2="234.5" y2="210" stroke="#000" stroke-width="1.1" />
<polygon points="226.8,239.15 233.0,236.35 234.2,239.04999999999998 228.0,241.85" fill="#fff"/>
<line x1="226.8" y1="239.15" x2="233.0" y2="236.35" stroke="#000" stroke-width="1.15" />
<line x1="228.0" y1="241.85" x2="234.2" y2="239.04999999999998" stroke="#000" stroke-width="1.15" />
<circle cx="231.2" cy="226.0" r="2.2" fill="#000"/>
<circle cx="232.0" cy="179.5" r="2.2" fill="#000"/>
<circle cx="232.0" cy="184.4" r="2.2" fill="#000"/>
<circle cx="232.6" cy="194.0" r="2.2" fill="#000"/>
<circle cx="232.6" cy="199.8" r="2.2" fill="#000"/>
<circle cx="233.6" cy="201.8" r="2.2" fill="#000"/>
<circle cx="237.4" cy="235.7" r="2.2" fill="#000"/>
<circle cx="240.6" cy="232.1" r="2.2" fill="#000"/>
<circle cx="249.7" cy="203.8" r="2.2" fill="#000"/>
<circle cx="257.2" cy="198.6" r="2.2" fill="#000"/>
<circle cx="267.7" cy="209.9" r="2.2" fill="#000"/>
<circle cx="275.3" cy="227.9" r="2.2" fill="#000"/>
<circle cx="294.9" cy="212.3" r="2.2" fill="#000"/>
<circle cx="310.3" cy="232.9" r="2.2" fill="#000"/>
<circle cx="337.5" cy="229.1" r="2.2" fill="#000"/>
<circle cx="231.0" cy="244.0" r="2.2" fill="#000"/>
<text x="460.0" y="161.0" font-size="8.6" font-weight="bold" text-anchor="middle" fill="#000" stroke="#000" stroke-width="0.25" >UPN-04</text>
<text transform="translate(379.5,205.0) rotate(-90)" x="0" y="3.02" font-size="8.4" font-weight="bold" stroke="#000" stroke-width="0.25" text-anchor="middle" textLength="48.6" lengthAdjust="spacingAndGlyphs" xml:space="preserve">%  CAR+ cells</text>
<line x1="404.4" y1="170.8" x2="404.4" y2="244.0" stroke="#000" stroke-width="1.5" />
<line x1="401.59999999999997" y1="170.8" x2="404.4" y2="170.8" stroke="#000" stroke-width="1.0" />
<text x="401.0" y="172.5" font-size="5.0" font-weight="normal" text-anchor="end" fill="#000" stroke="#000" stroke-width="0.18">10</text>
<line x1="401.59999999999997" y1="188.8" x2="404.4" y2="188.8" stroke="#000" stroke-width="1.0" />
<text x="401.0" y="190.5" font-size="5.0" font-weight="normal" text-anchor="end" fill="#000" stroke="#000" stroke-width="0.18">1</text>
<line x1="401.59999999999997" y1="206.9" x2="404.4" y2="206.9" stroke="#000" stroke-width="1.0" />
<text x="401.0" y="208.6" font-size="5.0" font-weight="normal" text-anchor="end" fill="#000" stroke="#000" stroke-width="0.18">0.1</text>
<line x1="401.59999999999997" y1="225.4" x2="404.4" y2="225.4" stroke="#000" stroke-width="1.0" />
<text x="401.0" y="227.1" font-size="5.0" font-weight="normal" text-anchor="end" fill="#000" stroke="#000" stroke-width="0.18">0.01</text>
<text x="398.79999999999995" y="245.8" font-size="5.0" font-weight="normal" text-anchor="end" fill="#000" stroke="#000" stroke-width="0.25">0</text>
<line x1="404.4" y1="244.0" x2="515.6" y2="244.0" stroke="#000" stroke-width="1.5" />
<line x1="404.3" y1="244.0" x2="404.3" y2="246.4" stroke="#000" stroke-width="1.0" />
<text x="404.3" y="252.6" font-size="5.1" font-weight="normal" text-anchor="middle" fill="#000" stroke="#000" stroke-width="0.18">0</text>
<line x1="432.3" y1="244.0" x2="432.3" y2="246.4" stroke="#000" stroke-width="1.0" />
<text x="432.3" y="252.6" font-size="5.1" font-weight="normal" text-anchor="middle" fill="#000" stroke="#000" stroke-width="0.18">100</text>
<line x1="460.0" y1="244.0" x2="460.0" y2="246.4" stroke="#000" stroke-width="1.0" />
<text x="460.0" y="252.6" font-size="5.1" font-weight="normal" text-anchor="middle" fill="#000" stroke="#000" stroke-width="0.18">200</text>
<line x1="487.2" y1="244.0" x2="487.2" y2="246.4" stroke="#000" stroke-width="1.0" />
<text x="487.2" y="252.6" font-size="5.1" font-weight="normal" text-anchor="middle" fill="#000" stroke="#000" stroke-width="0.18">300</text>
<line x1="514.9" y1="244.0" x2="514.9" y2="246.4" stroke="#000" stroke-width="1.0" />
<text x="514.9" y="252.6" font-size="5.1" font-weight="normal" text-anchor="middle" fill="#000" stroke="#000" stroke-width="0.18">400</text>
<text x="463.5" y="262.5" font-size="8.5" font-weight="bold" text-anchor="middle" fill="#000" stroke="#000" stroke-width="0.25" textLength="103.0" lengthAdjust="spacingAndGlyphs" >Days after 1st T cell infusion</text>
<polyline points="404.7,214.4 406.2,188.2 406.2,194.0 406.2,199.8 406.2,205.6 408.2,227.0 412.0,218.2 414.4,205.7 426.1,210.7 430.8,205.2 439.6,208.3 448.7,199.6 457.4,202.8 482.2,199.2 507.6,244.0" fill="none" stroke="#000" stroke-width="1.35" stroke-linejoin="round"/>
<line x1="406.2" y1="183.4" x2="406.2" y2="210" stroke="#000" stroke-width="1.1" />
<line x1="404.7" y1="183.4" x2="407.7" y2="183.4" stroke="#000" stroke-width="1.1" />
<line x1="404.7" y1="210" x2="407.7" y2="210" stroke="#000" stroke-width="1.1" />
<line x1="408.2" y1="223" x2="408.2" y2="236" stroke="#000" stroke-width="1.1" />
<line x1="405.7" y1="223" x2="410.7" y2="223" stroke="#000" stroke-width="1.1" />
<line x1="405.7" y1="236" x2="410.7" y2="236" stroke="#000" stroke-width="1.1" />
<line x1="412.0" y1="214" x2="412.0" y2="222" stroke="#000" stroke-width="1.1" />
<line x1="409.5" y1="214" x2="414.5" y2="214" stroke="#000" stroke-width="1.1" />
<line x1="409.5" y1="222" x2="414.5" y2="222" stroke="#000" stroke-width="1.1" />
<line x1="414.4" y1="198.9" x2="414.4" y2="205.7" stroke="#000" stroke-width="1.1" />
<line x1="411.9" y1="198.9" x2="416.9" y2="198.9" stroke="#000" stroke-width="1.1" />
<line x1="411.9" y1="205.7" x2="416.9" y2="205.7" stroke="#000" stroke-width="1.1" />
<line x1="426.1" y1="205.8" x2="426.1" y2="241.0" stroke="#000" stroke-width="1.1" />
<line x1="423.6" y1="205.8" x2="428.6" y2="205.8" stroke="#000" stroke-width="1.1" />
<line x1="423.6" y1="241.0" x2="428.6" y2="241.0" stroke="#000" stroke-width="1.1" />
<line x1="430.8" y1="198.6" x2="430.8" y2="205.2" stroke="#000" stroke-width="1.1" />
<line x1="428.3" y1="198.6" x2="433.3" y2="198.6" stroke="#000" stroke-width="1.1" />
<line x1="428.3" y1="205.2" x2="433.3" y2="205.2" stroke="#000" stroke-width="1.1" />
<line x1="439.6" y1="201.2" x2="439.6" y2="208.3" stroke="#000" stroke-width="1.1" />
<line x1="437.1" y1="201.2" x2="442.1" y2="201.2" stroke="#000" stroke-width="1.1" />
<line x1="437.1" y1="208.3" x2="442.1" y2="208.3" stroke="#000" stroke-width="1.1" />
<line x1="448.7" y1="195.1" x2="448.7" y2="214.3" stroke="#000" stroke-width="1.1" />
<line x1="446.2" y1="195.1" x2="451.2" y2="195.1" stroke="#000" stroke-width="1.1" />
<line x1="446.2" y1="214.3" x2="451.2" y2="214.3" stroke="#000" stroke-width="1.1" />
<line x1="457.4" y1="198.6" x2="457.4" y2="214.3" stroke="#000" stroke-width="1.1" />
<line x1="454.9" y1="198.6" x2="459.9" y2="198.6" stroke="#000" stroke-width="1.1" />
<line x1="454.9" y1="214.3" x2="459.9" y2="214.3" stroke="#000" stroke-width="1.1" />
<line x1="482.2" y1="191.7" x2="482.2" y2="199.2" stroke="#000" stroke-width="1.1" />
<line x1="479.7" y1="191.7" x2="484.7" y2="191.7" stroke="#000" stroke-width="1.1" />
<line x1="479.7" y1="199.2" x2="484.7" y2="199.2" stroke="#000" stroke-width="1.1" />
<polyline points="405.6,183.5 406.3,200 406.0,222" fill="none" stroke="#000" stroke-width="2.6" stroke-linejoin="round"/>
<line x1="409.8" y1="207.3" x2="409.8" y2="226.4" stroke="#000" stroke-width="1.1" />
<line x1="407.3" y1="207.3" x2="412.3" y2="207.3" stroke="#000" stroke-width="1.1" />
<line x1="407.3" y1="226.4" x2="412.3" y2="226.4" stroke="#000" stroke-width="1.1" />
<line x1="412.0" y1="212.1" x2="412.0" y2="226.4" stroke="#000" stroke-width="1.1" />
<line x1="409.5" y1="212.1" x2="414.5" y2="212.1" stroke="#000" stroke-width="1.1" />
<line x1="409.5" y1="226.4" x2="414.5" y2="226.4" stroke="#000" stroke-width="1.1" />
<polyline points="406.0,207.3 417.0,207.3" fill="none" stroke="#000" stroke-width="1.0" stroke-linejoin="round"/>
<polygon points="401.09999999999997,238.65 407.3,235.85 408.50000000000006,238.54999999999998 402.3,241.35" fill="#fff"/>
<line x1="401.09999999999997" y1="238.65" x2="407.3" y2="235.85" stroke="#000" stroke-width="1.15" />
<line x1="402.3" y1="241.35" x2="408.50000000000006" y2="238.54999999999998" stroke="#000" stroke-width="1.15" />
<polygon points="501.19999999999993,238.55 507.4,235.75 508.6,238.45 502.4,241.25" fill="#fff"/>
<line x1="501.19999999999993" y1="238.55" x2="507.4" y2="235.75" stroke="#000" stroke-width="1.15" />
<line x1="502.4" y1="241.25" x2="508.6" y2="238.45" stroke="#000" stroke-width="1.15" />
<circle cx="404.7" cy="214.4" r="2.2" fill="#000"/>
<circle cx="406.2" cy="188.2" r="2.2" fill="#000"/>
<circle cx="406.2" cy="194.0" r="2.2" fill="#000"/>
<circle cx="406.2" cy="199.8" r="2.2" fill="#000"/>
<circle cx="406.2" cy="205.6" r="2.2" fill="#000"/>
<circle cx="408.2" cy="227.0" r="2.2" fill="#000"/>
<circle cx="412.0" cy="218.2" r="2.2" fill="#000"/>
<circle cx="414.4" cy="205.7" r="2.2" fill="#000"/>
<circle cx="426.1" cy="210.7" r="2.2" fill="#000"/>
<circle cx="430.8" cy="205.2" r="2.2" fill="#000"/>
<circle cx="439.6" cy="208.3" r="2.2" fill="#000"/>
<circle cx="448.7" cy="199.6" r="2.2" fill="#000"/>
<circle cx="457.4" cy="202.8" r="2.2" fill="#000"/>
<circle cx="482.2" cy="199.2" r="2.2" fill="#000"/>
<circle cx="507.6" cy="244.0" r="2.2" fill="#000"/>
<circle cx="404.6" cy="244.0" r="2.2" fill="#000"/>
<text x="98.6" y="310.5" font-size="8.4" font-weight="bold" text-anchor="middle" fill="#000" stroke="#000" stroke-width="0.25" >Lymph nodes</text>
<text transform="translate(24.9,355.0) rotate(-90)" x="0" y="3.02" font-size="8.4" font-weight="bold" stroke="#000" stroke-width="0.25" text-anchor="middle" textLength="50.4" lengthAdjust="spacingAndGlyphs" xml:space="preserve">%  CAR+ cells</text>
<line x1="52.4" y1="319.2" x2="52.4" y2="393.7" stroke="#000" stroke-width="1.5" />
<line x1="49.6" y1="319.2" x2="52.4" y2="319.2" stroke="#000" stroke-width="1.0" />
<text x="48.5" y="321.7" font-size="5.1" font-weight="normal" text-anchor="end" fill="#000" stroke="#000" stroke-width="0.18">10</text>
<line x1="49.6" y1="334.2" x2="52.4" y2="334.2" stroke="#000" stroke-width="1.0" />
<text x="48.5" y="336.7" font-size="5.1" font-weight="normal" text-anchor="end" fill="#000" stroke="#000" stroke-width="0.18">1</text>
<line x1="49.6" y1="349.0" x2="52.4" y2="349.0" stroke="#000" stroke-width="1.0" />
<text x="48.5" y="351.5" font-size="5.1" font-weight="normal" text-anchor="end" fill="#000" stroke="#000" stroke-width="0.18">0.1</text>
<line x1="49.6" y1="363.8" x2="52.4" y2="363.8" stroke="#000" stroke-width="1.0" />
<text x="48.5" y="366.3" font-size="5.1" font-weight="normal" text-anchor="end" fill="#000" stroke="#000" stroke-width="0.18">0.01</text>
<line x1="49.6" y1="378.6" x2="52.4" y2="378.6" stroke="#000" stroke-width="1.0" />
<text x="48.5" y="381.1" font-size="5.1" font-weight="normal" text-anchor="end" fill="#000" stroke="#000" stroke-width="0.18">0.001</text>
<line x1="49.6" y1="393.6" x2="52.4" y2="393.6" stroke="#000" stroke-width="1.0" />
<text x="48.5" y="396.1" font-size="5.1" font-weight="normal" text-anchor="end" fill="#000" stroke="#000" stroke-width="0.18">0.0001</text>
<rect x="57.0" y="391.6" width="19.3" height="2.1" fill="#111" stroke="#000" stroke-width="0.6"/>
<line x1="66.65" y1="385.8" x2="66.65" y2="391.6" stroke="#000" stroke-width="1.0" />
<line x1="61.150000000000006" y1="385.8" x2="72.15" y2="385.8" stroke="#000" stroke-width="1.0" />
<rect x="85.2" y="339.0" width="18.8" height="54.7" fill="#a4a4a8" stroke="#999" stroke-width="0.6"/>
<line x1="94.6" y1="332.4" x2="94.6" y2="339.0" stroke="#999" stroke-width="1.0" />
<line x1="89.1" y1="332.4" x2="100.1" y2="332.4" stroke="#999" stroke-width="1.0" />
<rect x="112.4" y="332.9" width="19.6" height="60.8" fill="#848486" stroke="#6a6a6a" stroke-width="0.6"/>
<line x1="122.2" y1="325.5" x2="122.2" y2="332.9" stroke="#6a6a6a" stroke-width="1.0" />
<line x1="116.7" y1="325.5" x2="127.7" y2="325.5" stroke="#6a6a6a" stroke-width="1.0" />
<rect x="140.5" y="353.4" width="19.1" height="40.3" fill="#dbdbdb" stroke="#a8a8a8" stroke-width="0.6"/>
<line x1="150.05" y1="345.6" x2="150.05" y2="353.4" stroke="#a8a8a8" stroke-width="1.0" />
<line x1="144.55" y1="345.6" x2="155.55" y2="345.6" stroke="#a8a8a8" stroke-width="1.0" />
<line x1="52.4" y1="393.7" x2="164.6" y2="393.7" stroke="#000" stroke-width="1.5" />
<line x1="66.4" y1="393.7" x2="66.4" y2="396.3" stroke="#000" stroke-width="1.0" />
<line x1="94.4" y1="393.7" x2="94.4" y2="396.3" stroke="#000" stroke-width="1.0" />
<line x1="122.6" y1="393.7" x2="122.6" y2="396.3" stroke="#000" stroke-width="1.0" />
<line x1="150.0" y1="393.7" x2="150.0" y2="396.3" stroke="#000" stroke-width="1.0" />
<text transform="translate(69.2,402.3) rotate(-45)" x="0" y="0" font-size="7.7" font-weight="bold" stroke="#000" stroke-width="0.25" text-anchor="end">UPN-02</text>
<text transform="translate(98.3,402.3) rotate(-45)" x="0" y="0" font-size="7.7" font-weight="bold" stroke="#000" stroke-width="0.25" text-anchor="end">UPN-03 (LN#1)</text>
<text transform="translate(126.6,402.3) rotate(-45)" x="0" y="0" font-size="7.7" font-weight="bold" stroke="#000" stroke-width="0.25" text-anchor="end">UPN-03 (LN#2)</text>
<text transform="translate(152.6,402.9) rotate(-45)" x="0" y="0" font-size="7.7" font-weight="bold" stroke="#000" stroke-width="0.25" text-anchor="end">UPN-04</text>
<text x="291.0" y="311.3" font-size="8.4" font-weight="bold" text-anchor="middle" fill="#000" stroke="#000" stroke-width="0.25" >Bone Marrow</text>
<text transform="translate(206.9,354.2) rotate(-90)" x="0" y="3.02" font-size="8.4" font-weight="bold" stroke="#000" stroke-width="0.25" text-anchor="middle" textLength="50.3" lengthAdjust="spacingAndGlyphs" xml:space="preserve">%  CAR+ cells</text>
<line x1="232.9" y1="319.2" x2="232.9" y2="393.4" stroke="#000" stroke-width="1.5" />
<line x1="230.1" y1="319.2" x2="232.9" y2="319.2" stroke="#000" stroke-width="1.0" />
<text x="229.3" y="321.4" font-size="5.1" font-weight="normal" text-anchor="end" fill="#000" stroke="#000" stroke-width="0.18">1</text>
<line x1="230.1" y1="337.7" x2="232.9" y2="337.7" stroke="#000" stroke-width="1.0" />
<text x="229.3" y="339.9" font-size="5.1" font-weight="normal" text-anchor="end" fill="#000" stroke="#000" stroke-width="0.18">0.1</text>
<line x1="230.1" y1="356.2" x2="232.9" y2="356.2" stroke="#000" stroke-width="1.0" />
<text x="229.3" y="358.4" font-size="5.1" font-weight="normal" text-anchor="end" fill="#000" stroke="#000" stroke-width="0.18">0.01</text>
<line x1="230.1" y1="374.6" x2="232.9" y2="374.6" stroke="#000" stroke-width="1.0" />
<text x="229.3" y="376.8" font-size="5.1" font-weight="normal" text-anchor="end" fill="#000" stroke="#000" stroke-width="0.18">0.001</text>
<text x="227.20000000000002" y="395.2" font-size="5.1" font-weight="normal" text-anchor="end" fill="#000" stroke="#000" stroke-width="0.25">0</text>
<polygon points="229.3,389.34999999999997 235.5,386.55 236.7,389.25000000000006 230.5,392.05" fill="#fff"/>
<line x1="229.3" y1="389.34999999999997" x2="235.5" y2="386.55" stroke="#000" stroke-width="1.15" />
<line x1="230.5" y1="392.05" x2="236.7" y2="389.25000000000006" stroke="#000" stroke-width="1.15" />
<rect x="264.4" y="347.3" width="19.4" height="46.1" fill="#a4a4a8" stroke="#999" stroke-width="0.6"/>
<line x1="274.1" y1="345.4" x2="274.1" y2="347.3" stroke="#999" stroke-width="1.0" />
<line x1="268.90000000000003" y1="345.4" x2="279.3" y2="345.4" stroke="#999" stroke-width="1.0" />
<rect x="292.8" y="384.4" width="19.1" height="9.0" fill="#858587" stroke="#6a6a6a" stroke-width="0.6"/>
<line x1="302.35" y1="375.6" x2="302.35" y2="384.4" stroke="#6a6a6a" stroke-width="1.0" />
<line x1="297.15000000000003" y1="375.6" x2="307.55" y2="375.6" stroke="#6a6a6a" stroke-width="1.0" />
<rect x="320.4" y="352.1" width="19.2" height="41.3" fill="#dadada" stroke="#b0b0b0" stroke-width="0.6"/>
<line x1="330.0" y1="346.3" x2="330.0" y2="352.1" stroke="#b0b0b0" stroke-width="1.0" />
<line x1="324.8" y1="346.3" x2="335.2" y2="346.3" stroke="#b0b0b0" stroke-width="1.0" />
<line x1="232.9" y1="393.4" x2="345.3" y2="393.4" stroke="#000" stroke-width="1.5" />
<line x1="246.6" y1="393.4" x2="246.6" y2="396.0" stroke="#000" stroke-width="1.0" />
<line x1="274.2" y1="393.4" x2="274.2" y2="396.0" stroke="#000" stroke-width="1.0" />
<line x1="301.5" y1="393.4" x2="301.5" y2="396.0" stroke="#000" stroke-width="1.0" />
<line x1="329.6" y1="393.4" x2="329.6" y2="396.0" stroke="#000" stroke-width="1.0" />
<text transform="translate(249.0,402.2) rotate(-45)" x="0" y="0" font-size="7.7" font-weight="bold" stroke="#000" stroke-width="0.25" text-anchor="end">UPN-02</text>
<text transform="translate(277.4,402.4) rotate(-45)" x="0" y="0" font-size="7.7" font-weight="bold" stroke="#000" stroke-width="0.25" text-anchor="end">UPN-03</text>
<text transform="translate(306.0,402.6) rotate(-45)" x="0" y="0" font-size="7.7" font-weight="bold" stroke="#000" stroke-width="0.25" text-anchor="end">UPN-03 (1 mo)</text>
<text transform="translate(333.2,402.7) rotate(-45)" x="0" y="0" font-size="7.7" font-weight="bold" stroke="#000" stroke-width="0.25" text-anchor="end">UPN-04</text>
</svg>
</body></html>
